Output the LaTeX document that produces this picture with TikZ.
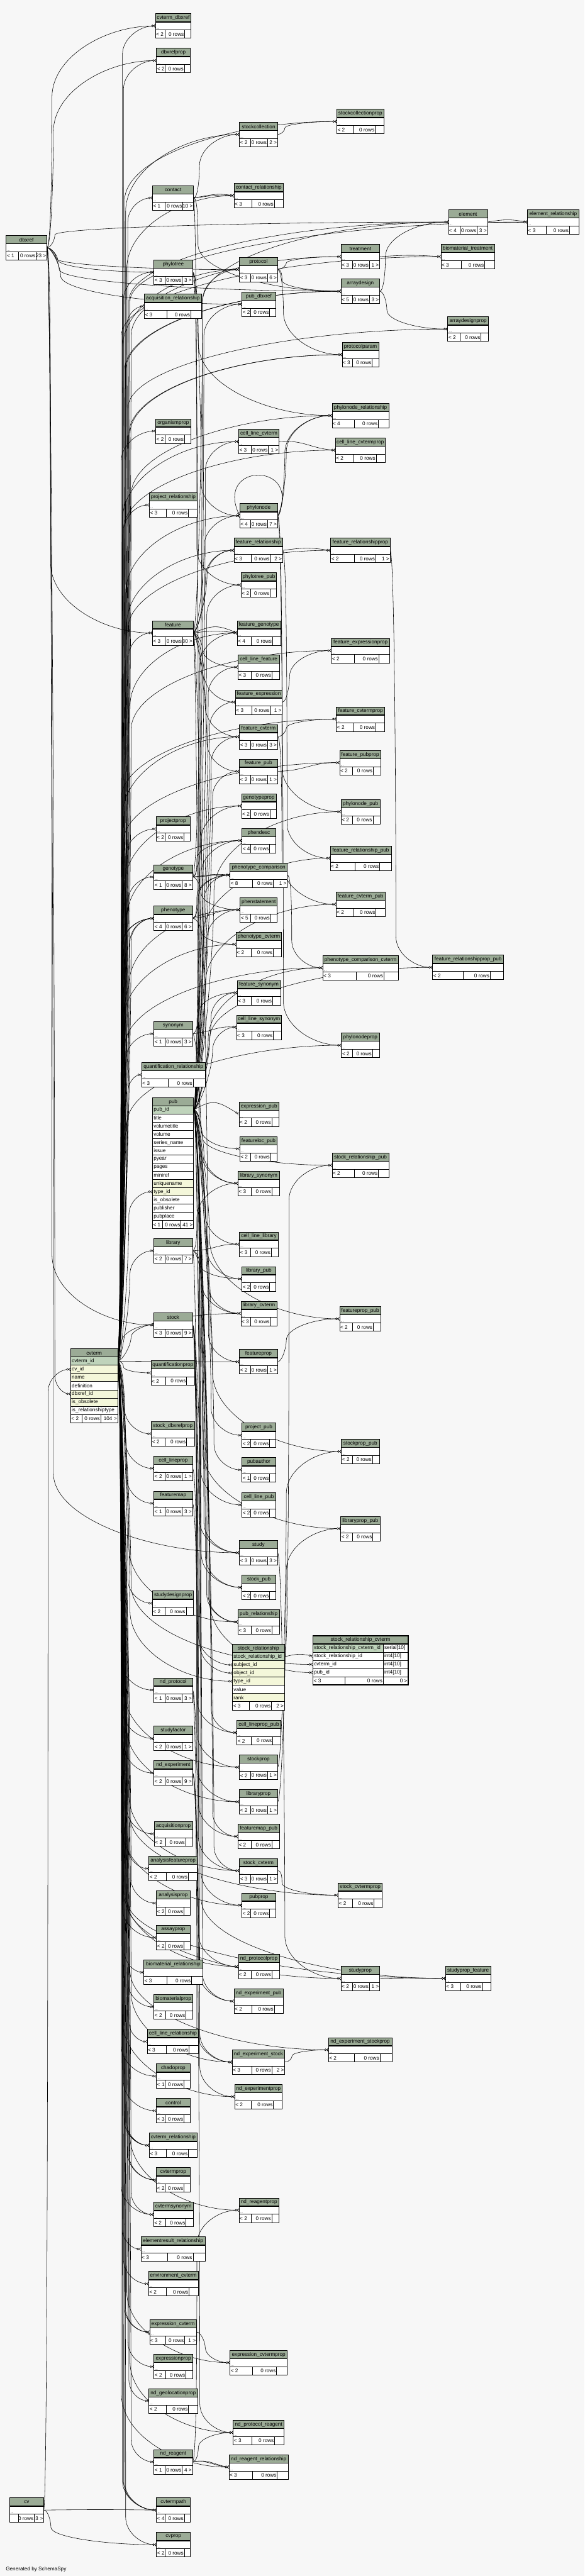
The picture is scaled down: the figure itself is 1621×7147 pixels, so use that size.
\documentclass[tikz,border=0pt]{standalone}
\usepackage{fontspec}
\setmainfont{Liberation Sans}
\usetikzlibrary{arrows.meta}

\definecolor{headfill}{HTML}{9BAB96}
\definecolor{pkfill}{HTML}{BFD3BB}
\definecolor{idxfill}{HTML}{F4F7DA}
\definecolor{bgfill}{HTML}{F7F7F7}

\pgfdeclarelayer{bgl}
\pgfdeclarelayer{edges}
\pgfsetlayers{bgl,edges,main}

\tikzset{
  tabhead/.style={fill=headfill, draw=black, line width=1.1pt},
  tabname/.style={font=\fontsize{14.3}{16}\selectfont, inner sep=0pt},
  cell/.style={font=\fontsize{14.3}{16}\selectfont, inner sep=0pt},
  dots/.style={font=\fontsize{9}{10}\selectfont, inner sep=0pt, anchor=south west},
  tabrow/.style={fill=white, inner sep=0pt, minimum height=22pt},
  tabline/.style={draw=black, line width=1.1pt},
  headline/.style={draw=black, line width=2.4pt},
  fk/.style={draw=black, line width=1pt,
    -{Circle[open,fill=white,length=6pt,width=6pt] Straight Barb[reversed,length=4pt,width=8pt]}},
}

% --- header of a table: x, y, width, name ---
\newcommand{\dbhead}[4]{%
  \filldraw[tabhead] (#1,#2) rectangle ++(#3,23);
  \node[tabname] at ({#1+#3/2},{#2+12}) {\detokenize{#4}};
}
% --- footer: x, y, width, left cell, right cell, left text, right text ---
\newcommand{\dbfoot}[7]{%
  \fill[white] (#1,#2) rectangle ++(#3,23);
  \draw[tabline] (#1,#2) rectangle ++(#3,23);
  \draw[tabline] ({#1+#4},#2) -- ++(0,23);
  \draw[tabline] ({#1+#3-#5},#2) -- ++(0,23);
  \node[cell,anchor=west] at ({#1+2},{#2+12}) {#6};
  \node[cell,anchor=east] at ({#1+#3-#5-2},{#2+12}) {0 rows};
  \node[cell,anchor=east] at ({#1+#3-2},{#2+12}) {#7};
}
% --- collapsed table: name, x, y, width, parents, children ---
\newcommand{\dbt}[6]{%
  \pgfmathsetmacro\tabwl{max(24,27+0.6*(#4-100))}%
  \if\relax\detokenize{#6}\relax
    \pgfmathsetmacro\tabwr{max(16,18+0.2*(#4-100))}%
  \else
    \pgfmathsetmacro\tabwr{max(26,27+0.2*(#4-100))}%
  \fi
  \dbhead{#2}{#3}{#4}{#1}
  \node[tabrow,minimum width=#4] (#1) at ({#2+#4/2},{#3+34}) {};
  \draw[tabline] (#2,{#3+23}) rectangle ++(#4,22);
  \node[dots] at ({#2+3},{#3+44}) {...};
  \draw[headline] (#2,{#3+23}) -- ++(#4,0);
  \dbfoot{#2}{#3+45}{#4}{\tabwl}{\tabwr}{#5}{#6}%
}
% --- one column row of an expanded table: node, x, y, width, fill, label ---
\newcommand{\dbrow}[6]{%
  \edef\dbrowlabel{#6}%
  \node[tabrow,fill=#5,draw=black,line width=1.1pt,minimum width=#4,minimum height=22.7] (#1) at ({#2+#4/2},{#3+11.35}) {};
  \node[cell,anchor=west] at ({#2+3},{#3+11.35}) {\detokenize\expandafter{\dbrowlabel}};
}
% --- foreign key: [channel offset] parent, child ---
\newcommand{\fk}[3][14]{%
  \pgfpointanchor{#2}{east}\pgfgetlastxy{\fkax}{\fkay}%
  \pgfpointanchor{#3}{west}\pgfgetlastxy{\fkbx}{\fkby}%
  \pgfmathsetmacro\fkdy{\fkby-(\fkay)}%
  \pgfmathsetmacro\fkdx{\fkbx-(\fkax)}%
  \pgfmathtruncatemacro\fknear{abs(\fkdy)<30 ? 1 : 0}%
  \ifnum\fknear=1
    \pgfmathsetmacro\fkxa{\fkax+0.45*\fkdx}%
    \pgfmathsetmacro\fkxb{\fkbx-0.45*\fkdx}%
    \pgfmathsetmacro\fkya{\fkay+(#1-14)*0.8}%
    \pgfmathsetmacro\fkyb{\fkby+(#1-14)*0.8}%
    \draw[fk] (#2.east) .. controls (\fkxa pt,\fkya pt) and (\fkxb pt,\fkyb pt) .. (#3.west);
  \else
    \pgfmathsetmacro\fksg{\fkdy>0 ? 1 : -1}%
    \pgfmathsetmacro\fkmx{\fkax+#1}%
    \pgfmathsetmacro\fkhh{min(min(abs(\fkdy)/2,0.6*(\fkbx-\fkmx)+25),220)}%
    \pgfmathsetmacro\fkmy{\fkby-\fksg*\fkhh}%
    \pgfmathsetmacro\fkda{max(0.35*(abs(\fkdy)-\fkhh),1)}%
    \pgfmathsetmacro\fkdb{max(0.55*\fkhh,1)}%
    \pgfmathsetmacro\fkdc{max(0.5*(\fkbx-\fkmx),1)}%
    \pgfmathsetmacro\fkxa{\fkax+12}%
    \pgfmathsetmacro\fkyb{\fkmy-\fksg*\fkda}%
    \pgfmathsetmacro\fkyc{\fkmy+\fksg*\fkdb}%
    \pgfmathsetmacro\fkxd{\fkbx-\fkdc}%
    \draw[fk] (#2.east) .. controls (\fkxa pt,\fkay) and (\fkmx pt,\fkyb pt) .. (\fkmx pt,\fkmy pt)
      .. controls (\fkmx pt,\fkyc pt) and (\fkxd pt,\fkby) .. (#3.west);
  \fi}

\begin{document}
\begin{tikzpicture}[x=1pt,y=-1pt]
  \useasboundingbox (0,0) rectangle (1621,7147);
  \begin{pgfonlayer}{bgl}
    \fill[bgfill] (0,0) rectangle (1621,7147);
  \end{pgfonlayer}

  % --- 1. tables, top part ---
  \dbt{cvterm_dbxref}{431}{38}{99}{< 2}{}
  \dbt{dbxrefprop}{434}{134}{94}{< 2}{}
  \dbt{stockcollectionprop}{934}{303}{131}{< 2}{}
  \dbt{stockcollection}{664}{339}{106}{< 2}{2 >}
  \dbt{contact_relationship}{649}{509}{137}{< 3}{}
  \dbt{contact}{423}{515}{114}{< 1}{10 >}
  \dbt{element}{1244}{582}{108}{< 4}{3 >}
  \dbt{element_relationship}{1463}{582}{143}{< 3}{}
  \dbt{dbxref}{17}{653}{113}{< 1}{23 >}
  \dbt{treatment}{946}{678}{107}{< 3}{1 >}
  \dbt{biomaterial_treatment}{1223}{678}{149}{< 3}{}
  \dbt{protocol}{664}{714}{106}{< 3}{6 >}
  \dbt{phylotree}{427}{721}{107}{< 3}{3 >}
  \dbt{arraydesign}{946}{774}{107}{< 5}{3 >}
  \dbt{pub_dbxref}{671}{810}{94}{< 2}{}
  \dbt{acquisition_relationship}{400}{816}{159}{< 3}{}
  \dbt{arraydesignprop}{1242}{879}{113}{< 2}{}
  \dbt{protocolparam}{949}{950}{102}{< 3}{}
  \dbt{phylonode_relationship}{921}{1119}{158}{< 4}{}
  \dbt{organismprop}{432}{1162}{97}{< 2}{}
  \dbt{cell_line_cvterm}{662}{1191}{112}{< 3}{1 >}
  \dbt{cell_line_cvtermprop}{930}{1215}{139}{< 2}{}
  \dbt{project_relationship}{414}{1367}{133}{< 3}{}
  \dbt{phylonode}{665}{1397}{105}{< 4}{7 >}
  \dbt{feature_relationship}{649}{1493}{135}{< 3}{2 >}
  \dbt{feature_relationshipprop}{917}{1493}{165}{< 2}{1 >}
  \dbt{phylotree_pub}{669}{1589}{98}{< 2}{}
  \dbt{feature}{423}{1722}{113}{< 3}{30 >}
  \dbt{feature_genotype}{658}{1722}{120}{< 4}{}
  \dbt{feature_expressionprop}{919}{1771}{162}{< 2}{}
  \dbt{cell_line_feature}{660}{1817}{115}{< 3}{}
  \dbt{feature_expression}{653}{1914}{130}{< 3}{1 >}
  \dbt{feature_cvtermprop}{933}{1961}{134}{< 2}{}
  \dbt{feature_cvterm}{664}{2010}{106}{< 3}{3 >}
  \dbt{feature_pubprop}{942}{2082}{114}{< 2}{}
  \dbt{feature_pub}{664}{2106}{106}{< 2}{1 >}
  \dbt{genotypeprop}{670}{2202}{96}{< 2}{}
  \dbt{phylonode_pub}{946}{2218}{108}{< 2}{}
  \dbt{projectprop}{433}{2266}{94}{< 2}{}
  \dbt{phendesc}{671}{2298}{94}{< 4}{}
  \dbt{feature_relationship_pub}{916}{2347}{169}{< 2}{}
  \dbt{phenotype_comparison}{638}{2394}{159}{< 8}{1 >}
  \dbt{genotype}{427}{2399}{107}{< 1}{8 >}
  \dbt{feature_cvterm_pub}{932}{2475}{136}{< 2}{}
  \dbt{phenstatement}{666}{2490}{103}{< 5}{}
  \dbt{phenotype}{427}{2514}{107}{< 4}{6 >}
  \dbt{phenotype_cvterm}{655}{2586}{126}{< 2}{}
  \dbt{feature_relationshipprop_pub}{1200}{2650}{197}{< 2}{}
  \dbt{phenotype_comparison_cvterm}{895}{2651}{210}{< 3}{}
  \dbt{feature_synonym}{658}{2720}{120}{< 3}{}
  \dbt{cell_line_synonym}{656}{2816}{125}{< 3}{}
  \dbt{synonym}{427}{2834}{107}{< 1}{3 >}
  \dbt{phylonodeprop}{947}{2866}{105}{< 2}{}
  \dbt{quantification_relationship}{393}{2948}{176}{< 3}{}

  % --- 2. pub, with its columns ---
  \dbhead{423}{3045}{114}{pub}
  \foreach \r/\f [count=\k from 0] in {pub_id/pkfill, title/white, volumetitle/white, volume/white,
      series_name/white, issue/white, pyear/white, pages/white, miniref/white, uniquename/idxfill,
      type_id/idxfill, is_obsolete/white, publisher/white, pubplace/white}
    {\dbrow{pub-\r}{423}{3068+22.7*\k}{114}{\f}{\r}}
  \draw[headline] (423,3068) -- ++(114,0);
  \dbfoot{423}{3385.8}{114}{28}{35}{< 1}{41 >}

  % --- 3. tables, middle part ---
  \dbt{expression_pub}{663}{3057}{111}{< 2}{}
  \dbt{featureloc_pub}{665}{3153}{104}{< 2}{}
  \dbt{stock_relationship_pub}{921}{3199}{158}{< 2}{}
  \dbt{library_synonym}{660}{3249}{115}{< 3}{}
  \dbt{cell_line_library}{664}{3418}{108}{< 3}{}
  \dbt{library}{427}{3436}{107}{< 2}{7 >}
  \dbt{library_pub}{671}{3514}{94}{< 2}{}
  \dbt{library_cvterm}{668}{3610}{100}{< 3}{}
  \dbt{featureprop_pub}{942}{3625}{114}{< 2}{}
  \dbt{stock}{427}{3642}{107}{< 3}{9 >}
  \dbt{featureprop}{664}{3744}{106}{< 2}{1 >}
  \dbt{quantificationprop}{419}{3775}{121}{< 2}{}
  \dbt{stock_dbxrefprop}{420}{3944}{119}{< 2}{}
  \dbt{project_pub}{671}{3948}{94}{< 2}{}
  \dbt{stockprop_pub}{947}{3993}{105}{< 2}{}
  \dbt{cell_lineprop}{427}{4040}{107}{< 2}{1 >}
  \dbt{pubauthor}{671}{4044}{94}{< 1}{}
  \dbt{featuremap}{427}{4137}{107}{< 1}{3 >}
  \dbt{cell_line_pub}{671}{4141}{94}{< 2}{}
  \dbt{libraryprop_pub}{945}{4207}{109}{< 2}{}
  \dbt{study}{664}{4274}{106}{< 3}{3 >}
  \dbt{stock_pub}{671}{4370}{94}{< 2}{}
  \dbt{studydesignprop}{423}{4414}{114}{< 2}{}
  \dbt{pub_relationship}{660}{4466}{115}{< 3}{}

  % --- 4. cvterm, with its columns ---
  \dbhead{196}{3742}{130}{cvterm}
  \foreach \r/\f [count=\k from 0] in {cvterm_id/pkfill, cv_id/idxfill, name/idxfill, definition/white,
      dbxref_id/idxfill, is_obsolete/idxfill, is_relationshiptype/white}
    {\dbrow{cvterm-\r}{196}{3765+22.7*\k}{130}{\f}{\r}}
  \draw[headline] (196,3765) -- ++(130,0);
  \dbfoot{196}{3923.9}{130}{31}{47}{< 2}{104 >}

  % --- 5. stock_relationship and stock_relationship_cvterm ---
  \dbhead{645}{4562}{144}{stock_relationship}
  \foreach \r/\f [count=\k from 0] in {stock_relationship_id/pkfill, subject_id/idxfill, object_id/idxfill,
      type_id/idxfill, value/white, rank/idxfill}
    {\dbrow{stock_relationship-\r}{645}{4585+22.7*\k}{144}{\f}{\r}}
  \draw[headline] (645,4585) -- ++(144,0);
  \dbfoot{645}{4721.2}{144}{46}{36}{< 3}{2 >}

  \dbhead{868}{4538}{264}{stock_relationship_cvterm}
  \foreach \r/\f/\t [count=\k from 0] in {stock_relationship_cvterm_id/pkfill/serial[10],
      stock_relationship_id/white/int4[10], cvterm_id/white/int4[10], pub_id/white/int4[10]}
    {\dbrow{srcv-\r}{868}{4561+22.7*\k}{195}{\f}{\r}
     \dbrow{srcv-\r-t}{1063}{4561+22.7*\k}{69}{white}{\t}}
  \draw[headline] (868,4561) -- ++(264,0);
  \dbfoot{868}{4651.8}{264}{88}{69}{< 3}{0 >}
  \draw[line width=3pt] (868,4538) rectangle (1132,4674.8);

  % --- 6. tables, lower part ---
  \dbt{nd_protocol}{427}{4655}{107}{< 1}{3 >}
  \dbt{cell_lineprop_pub}{657}{4773}{122}{< 2}{}
  \dbt{studyfactor}{427}{4789}{107}{< 2}{1 >}
  \dbt{stockprop}{664}{4869}{106}{< 2}{1 >}
  \dbt{nd_experiment}{427}{4885}{107}{< 2}{9 >}
  \dbt{libraryprop}{664}{4965}{106}{< 2}{1 >}
  \dbt{acquisitionprop}{428}{5054}{106}{< 2}{}
  \dbt{featuremap_pub}{660}{5061}{115}{< 2}{}
  \dbt{analysisfeatureprop}{413}{5150}{134}{< 2}{}
  \dbt{stock_cvterm}{664}{5156}{106}{< 3}{1 >}
  \dbt{stock_cvtermprop}{938}{5224}{122}{< 2}{}
  \dbt{analysisprop}{434}{5246}{93}{< 2}{}
  \dbt{pubprop}{671}{5252}{94}{< 2}{}
  \dbt{assayprop}{434}{5342}{93}{< 2}{}
  \dbt{nd_protocolprop}{661}{5422}{114}{< 2}{}
  \dbt{biomaterial_relationship}{399}{5438}{163}{< 3}{}
  \dbt{studyprop}{946}{5455}{107}{< 2}{1 >}
  \dbt{studyprop_feature}{1236}{5455}{125}{< 3}{}
  \dbt{nd_experiment_pub}{649}{5518}{137}{< 2}{}
  \dbt{biomaterialprop}{427}{5534}{108}{< 2}{}
  \dbt{cell_line_relationship}{408}{5630}{143}{< 3}{}
  \dbt{nd_experiment_stockprop}{911}{5653}{176}{< 2}{}
  \dbt{nd_experiment_stock}{644}{5687}{146}{< 3}{2 >}
  \dbt{chadoprop}{434}{5726}{93}{< 1}{}
  \dbt{nd_experimentprop}{651}{5783}{132}{< 2}{}
  \dbt{control}{434}{5822}{93}{< 3}{}
  \dbt{cvterm_relationship}{414}{5918}{133}{< 3}{}
  \dbt{cvtermprop}{434}{6014}{93}{< 2}{}
  \dbt{nd_reagentprop}{663}{6098}{111}{< 2}{}
  \dbt{cvtermsynonym}{426}{6110}{110}{< 2}{}
  \dbt{elementresult_relationship}{391}{6206}{178}{< 3}{}
  \dbt{environment_cvterm}{412}{6302}{138}{< 2}{}
  \dbt{expression_cvterm}{415}{6436}{130}{< 3}{1 >}
  \dbt{expression_cvtermprop}{638}{6521}{159}{< 2}{}
  \dbt{expressionprop}{427}{6532}{108}{< 2}{}
  \dbt{nd_geolocationprop}{413}{6627}{135}{< 2}{}
  \dbt{nd_protocol_reagent}{647}{6715}{141}{< 3}{}
  \dbt{nd_reagent}{427}{6796}{107}{< 1}{4 >}
  \dbt{nd_reagent_relationship}{635}{6811}{165}{< 3}{}
  \dbt{cv}{27}{6930}{94}{}{3 >}
  \dbt{cvtermpath}{434}{6930}{94}{< 4}{}
  \dbt{cvprop}{434}{7026}{94}{< 2}{}

  \node[cell,anchor=west] (credit) at (16,7129) {Generated by SchemaSpy};

  % --- 7. foreign keys ---
  \begin{pgfonlayer}{edges}
    % dbxref
    \foreach \c [count=\i] in {cvterm_dbxref, dbxrefprop, element, protocol, phylotree, arraydesign,
        pub_dbxref, feature, stock, study, cvterm-dbxref_id}
      {\pgfmathsetmacro\fkoff{10+mod(\i,8)*4}\fk[\fkoff]{dbxref}{\c}}
    % cvterm
    \foreach \c [count=\i] in {cvterm_dbxref, dbxrefprop, stockcollectionprop, stockcollection,
        contact_relationship, contact, element, element_relationship, treatment, biomaterial_treatment,
        protocol, phylotree, arraydesign, arraydesign, acquisition_relationship, arraydesignprop,
        protocolparam, protocolparam, phylonode_relationship, organismprop, cell_line_cvterm,
        cell_line_cvtermprop, project_relationship, phylonode, feature_relationship,
        feature_relationshipprop, feature, feature_genotype, feature_expressionprop, feature_cvtermprop,
        feature_cvterm, feature_pubprop, genotypeprop, projectprop, phendesc, genotype, phenstatement,
        phenotype, phenotype, phenotype, phenotype, phenotype_cvterm, phenotype_comparison_cvterm,
        synonym, phylonodeprop, quantification_relationship, pub-type_id, library, library_cvterm,
        stock, featureprop, quantificationprop, stock_dbxrefprop, cell_lineprop, featuremap,
        studydesignprop, pub_relationship, stock_relationship-type_id, srcv-cvterm_id, nd_protocol,
        studyfactor, stockprop, nd_experiment, libraryprop, acquisitionprop, analysisfeatureprop,
        stock_cvterm, stock_cvtermprop, analysisprop, pubprop, assayprop, nd_protocolprop,
        biomaterial_relationship, studyprop, studyprop_feature, biomaterialprop, cell_line_relationship,
        nd_experiment_stockprop, nd_experiment_stock, chadoprop, nd_experimentprop, control,
        cvterm_relationship, cvterm_relationship, cvterm_relationship, cvtermprop, cvtermprop,
        nd_reagentprop, cvtermsynonym, cvtermsynonym, elementresult_relationship, environment_cvterm,
        expression_cvterm, expression_cvterm, expression_cvtermprop, expressionprop, nd_geolocationprop,
        nd_protocol_reagent, nd_reagent, nd_reagent_relationship, cvtermpath, cvtermpath, cvtermpath,
        cvprop}
      {\pgfmathsetmacro\fkoff{10+mod(\i,10)*3}\fk[\fkoff]{cvterm-cvterm_id}{\c}}
    % pub
    \foreach \c [count=\i] in {protocol, pub_dbxref, cell_line_cvterm, phylotree_pub, cell_line_feature,
        feature_expression, feature_cvterm, feature_pub, phylonode_pub, phendesc, feature_relationship_pub,
        phenotype_comparison, feature_cvterm_pub, phenstatement, phenotype_comparison_cvterm,
        feature_relationshipprop_pub, feature_synonym, cell_line_synonym, expression_pub, featureloc_pub,
        stock_relationship_pub, library_synonym, cell_line_library, library_pub, library_cvterm,
        featureprop_pub, project_pub, stockprop_pub, pubauthor, cell_line_pub, libraryprop_pub, study,
        stock_pub, pub_relationship, pub_relationship, srcv-pub_id, cell_lineprop_pub, featuremap_pub,
        stock_cvterm, pubprop, nd_experiment_pub}
      {\pgfmathsetmacro\fkoff{20+mod(\i,10)*4}\fk[\fkoff]{pub-pub_id}{\c}}
    % feature
    \foreach \c [count=\i] in {element, phylonode, feature_relationship, feature_relationship,
        feature_genotype, feature_genotype, cell_line_feature, feature_expression, feature_cvterm,
        feature_pub, featureprop, studyprop_feature}
      {\pgfmathsetmacro\fkoff{22+mod(\i,6)*4}\fk[\fkoff]{feature}{\c}}
    % the smaller parents
    \foreach \p/\c [count=\i] in {contact/stockcollection, contact/contact_relationship,
        contact/contact_relationship, contact/arraydesign, contact/study,
        stockcollection/stockcollectionprop, element/element_relationship, element/element_relationship,
        arraydesign/element, arraydesign/arraydesignprop, protocol/treatment, protocol/arraydesign,
        protocol/protocolparam, treatment/biomaterial_treatment, phylotree/phylonode,
        phylotree/phylotree_pub, phylotree/phylonode_relationship, phylonode/phylonode_relationship,
        phylonode/phylonode_relationship, phylonode/phylonode_pub, phylonode/phylonodeprop,
        cell_line_cvterm/cell_line_cvtermprop, feature_relationship/feature_relationshipprop,
        feature_relationship/feature_relationship_pub, feature_relationshipprop/feature_relationshipprop_pub,
        feature_expression/feature_expressionprop, feature_cvterm/feature_cvtermprop,
        feature_cvterm/feature_cvterm_pub, feature_pub/feature_pubprop, genotype/feature_genotype,
        genotype/genotypeprop, genotype/phendesc, genotype/phenotype_comparison,
        genotype/phenotype_comparison, genotype/phenstatement, phenotype/phenotype_comparison,
        phenotype/phenotype_comparison, phenotype/phenstatement, phenotype/phenotype_cvterm,
        phenotype_comparison/phenotype_comparison_cvterm, synonym/feature_synonym,
        synonym/cell_line_synonym, synonym/library_synonym, library/library_synonym,
        library/cell_line_library, library/library_pub, library/library_cvterm, library/libraryprop,
        stock/stock_relationship-subject_id, stock/stock_relationship-object_id, stock/stock_pub,
        stock/stockprop, stock/stock_cvterm, stock/nd_experiment_stock, featureprop/featureprop_pub,
        cell_lineprop/cell_lineprop_pub, featuremap/featuremap_pub, study/studyprop,
        stock_relationship-stock_relationship_id/srcv-stock_relationship_id,
        stock_relationship-stock_relationship_id/stock_relationship_pub, nd_protocol/nd_protocolprop,
        nd_protocol/nd_protocol_reagent, stockprop/stockprop_pub, nd_experiment/nd_experiment_stock,
        nd_experiment/nd_experiment_pub, nd_experiment/nd_experimentprop, libraryprop/libraryprop_pub,
        stock_cvterm/stock_cvtermprop, studyprop/studyprop_feature,
        nd_experiment_stock/nd_experiment_stockprop, expression_cvterm/expression_cvtermprop,
        nd_reagent/nd_reagentprop, nd_reagent/nd_protocol_reagent, nd_reagent/nd_reagent_relationship,
        nd_reagent/nd_reagent_relationship, cv/cvterm-cv_id, cv/cvtermpath, cv/cvprop}
      {\pgfmathsetmacro\fkoff{12+mod(\i,4)*4}\fk[\fkoff]{\p}{\c}}
    % phylonode points to itself
    \draw[fk] (phylonode.east) .. controls +(70,-150) and +(-70,-150) .. (phylonode.west);
  \end{pgfonlayer}
\end{tikzpicture}
\end{document}
